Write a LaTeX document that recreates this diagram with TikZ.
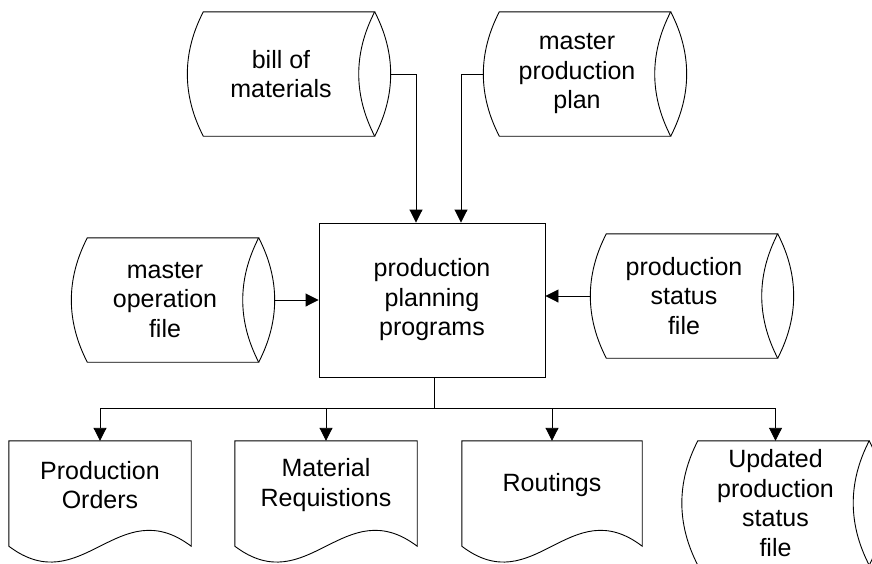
\documentclass[tikz,border=0pt]{standalone}
\usepackage{fontspec}
\setmainfont{Liberation Sans}
\usetikzlibrary{calc,arrows.meta}
\tikzset{
  ln/.style={line width=0.9pt, draw=black},
  arr/.style={ln, -{Triangle[width=13pt,length=13pt]}},
  txt/.style={font=\fontsize{25}{29.5}\selectfont, align=center, inner sep=0pt},
  storebox/.style={txt, minimum width=187pt, minimum height=124pt},
  docbox/.style={txt, minimum height=88pt},
  procbox/.style={txt, ln, draw, minimum width=226pt, minimum height=154pt},
}
\newcommand{\storeoutline}[1]{%
  \draw[ln] ($(#1.north west)+(16,0)$) -- (#1.north east)
    .. controls ($(#1.north east)+(-21.3,41.3)$) and ($(#1.south east)+(-21.3,-41.3)$) .. (#1.south east)
    -- ($(#1.south west)+(16,0)$)
    .. controls ($(#1.south west)+(-5.3,-41.3)$) and ($(#1.north west)+(-5.3,41.3)$) .. ($(#1.north west)+(16,0)$) -- cycle;
  \draw[ln] (#1.north east)
    .. controls ($(#1.north east)+(21.3,41.3)$) and ($(#1.south east)+(21.3,-41.3)$) .. (#1.south east);
  \coordinate (#1R) at ($(#1.east)+(16,0)$);
}
\newcommand{\docoutline}[1]{%
  \draw[ln] (#1.north west) -- ($(#1.south west)+(0,17)$)
    .. controls ($($(#1.south west)!0.4!(#1.south east)$)+(0,72)$) and ($($(#1.south west)!0.6!(#1.south east)$)+(0,-38)$) .. ($(#1.south east)+(0,17)$)
    -- (#1.north east) -- cycle;
}
\begin{document}
\begin{tikzpicture}[x=1pt,y=-1pt]
\useasboundingbox (0,0) rectangle (872,563);
\clip (0,0) rectangle (872,563);

\node[procbox] (pp) at (432,300) {production\\planning\\programs};

\node[storebox] (bom) at (281,74) {bill of\\materials};
\node[storebox] (mpp) at (577,74) {master\\production\\plan};
\node[storebox] (mof) at (165,300) {master\\operation\\file};
\node[storebox] (psf) at (684,296) {production\\status\\file};
\node[storebox] (upd) at (775.5,503) {Updated\\production\\status\\file};
\storeoutline{bom}
\storeoutline{mpp}
\storeoutline{mof}
\storeoutline{psf}
\storeoutline{upd}

\node[docbox, minimum width=182pt] (po) at (100,485) {Production\\Orders};
\node[docbox, minimum width=182pt] (mr) at (326,485) {Material\\Requistions};
\node[docbox, minimum width=180pt] (rt) at (552,485) {Routings};
\docoutline{po}
\docoutline{mr}
\docoutline{rt}

% inputs
\draw[arr] (bomR) -| ([xshift=-16pt]pp.north);
\draw[arr] (mpp.west) -| ([xshift=29pt]pp.north);
\draw[arr] (mofR) -- (mofR -| pp.west);
\draw[arr] (psf.west) -- (psf.west -| pp.east);

% outputs
\coordinate (bus) at ([xshift=2pt]pp.south |- 0,408);
\draw[ln] ([xshift=2pt]pp.south) -- (bus);
\draw[arr] (bus) -| (po.north);
\draw[arr] (bus) -| (mr.north);
\draw[arr] (bus) -| (rt.north);
\draw[arr] (bus) -| (upd.north);
\end{tikzpicture}
\end{document}
